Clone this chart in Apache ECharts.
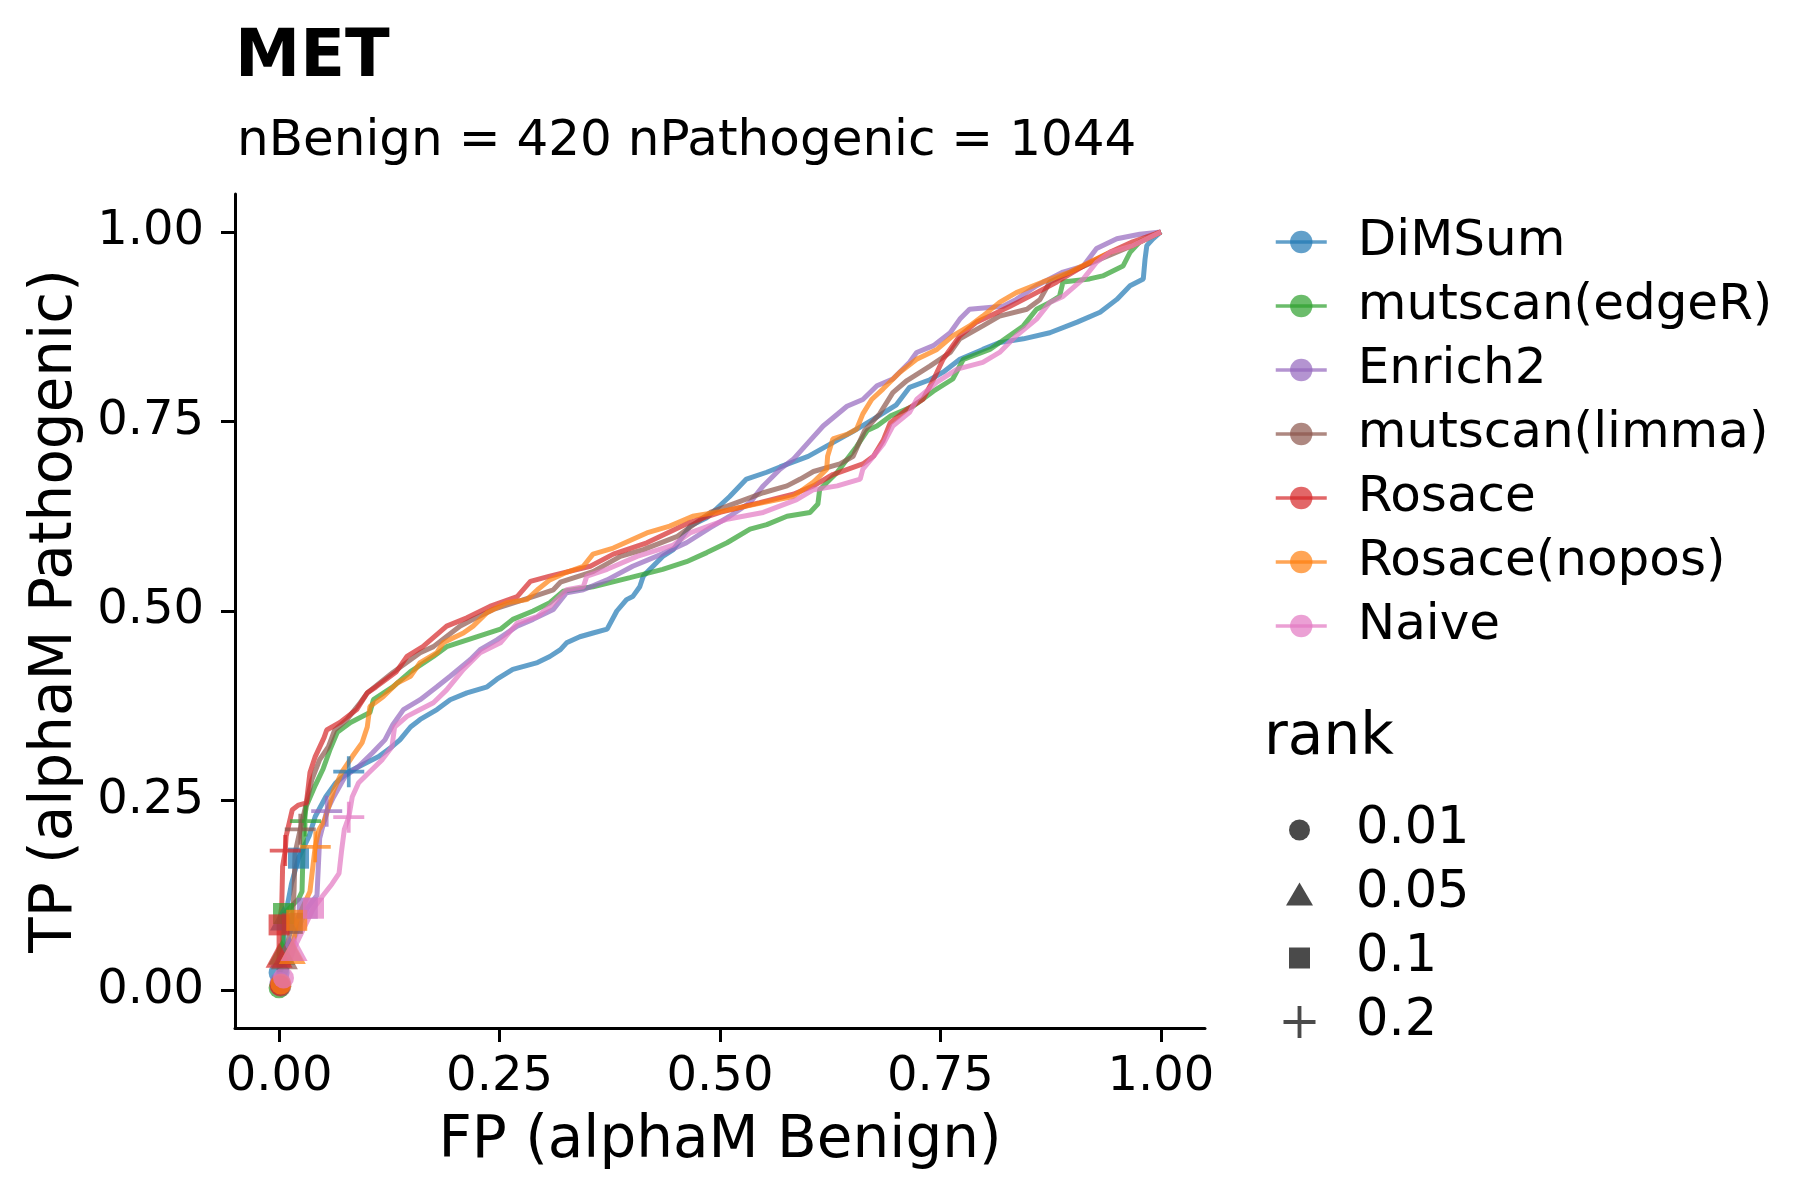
<!DOCTYPE html>
<html>
<head>
<meta charset="utf-8">
<script src="https://cdn.jsdelivr.net/npm/echarts@6/dist/echarts.min.js"></script>
<style>
html,body{margin:0;padding:0;background:#fff;}
#chart{width:1800px;height:1200px;}
</style>
</head>
<body>
<div id="chart"></div>
<script>
const titleText = 'MET';
const subtitleText = 'nBenign = 420 nPathogenic = 1044';
const xName = 'FP (alphaM Benign)';
const yName = 'TP (alphaM Pathogenic)';
const tickValues = [0, 0.25, 0.5, 0.75, 1];
const methods = ['DiMSum','mutscan(edgeR)','Enrich2','mutscan(limma)','Rosace','Rosace(nopos)','Naive'];
const colors = ['#1f77b4','#2ca02c','#9467bd','#8c564b','#d62728','#ff7f0e','#e377c2'];
const rankLabels = ['0.01','0.05','0.1','0.2'];

const curveDiMSum = [[0,0],[0,0.022],[0.005,0.06],[0.007,0.097],[0.014,0.14],[0.022,0.174],[0.034,0.203],[0.041,0.229],[0.053,0.255],[0.064,0.273],[0.079,0.288],[0.094,0.297],[0.113,0.308],[0.128,0.321],[0.137,0.33],[0.149,0.347],[0.16,0.357],[0.179,0.37],[0.194,0.383],[0.213,0.392],[0.236,0.4],[0.247,0.41],[0.265,0.423],[0.293,0.432],[0.307,0.44],[0.319,0.449],[0.326,0.458],[0.341,0.466],[0.356,0.471],[0.372,0.476],[0.383,0.5],[0.394,0.515],[0.401,0.519],[0.409,0.532],[0.413,0.546],[0.424,0.559],[0.435,0.572],[0.447,0.581],[0.455,0.594],[0.466,0.612],[0.485,0.623],[0.511,0.651],[0.53,0.674],[0.553,0.683],[0.568,0.69],[0.6,0.704],[0.628,0.722],[0.651,0.737],[0.674,0.753],[0.7,0.772],[0.715,0.795],[0.738,0.805],[0.753,0.815],[0.772,0.832],[0.798,0.845],[0.817,0.854],[0.844,0.859],[0.874,0.867],[0.905,0.881],[0.931,0.894],[0.95,0.911],[0.965,0.929],[0.98,0.938],[0.982,0.964],[0.984,0.982],[0.991,0.991],[1,1]];
const curveEdgeR = [[0,0],[0,0.006],[0.004,0.05],[0.005,0.1],[0.022,0.12],[0.026,0.13],[0.028,0.222],[0.031,0.243],[0.041,0.27],[0.05,0.292],[0.058,0.318],[0.066,0.34],[0.081,0.353],[0.103,0.366],[0.107,0.383],[0.129,0.4],[0.149,0.42],[0.175,0.44],[0.19,0.453],[0.224,0.466],[0.251,0.476],[0.265,0.489],[0.288,0.5],[0.307,0.511],[0.322,0.526],[0.356,0.532],[0.398,0.544],[0.435,0.555],[0.462,0.565],[0.485,0.577],[0.508,0.59],[0.534,0.608],[0.553,0.614],[0.576,0.625],[0.602,0.63],[0.611,0.641],[0.613,0.66],[0.633,0.683],[0.644,0.7],[0.655,0.717],[0.667,0.738],[0.678,0.744],[0.693,0.757],[0.719,0.77],[0.742,0.79],[0.764,0.806],[0.776,0.832],[0.806,0.845],[0.844,0.876],[0.859,0.898],[0.874,0.907],[0.885,0.915],[0.889,0.934],[0.919,0.938],[0.934,0.942],[0.957,0.955],[0.965,0.973],[0.976,0.987],[1,1]];
const curveEnrich2 = [[0,0],[0,0.01],[0.012,0.055],[0.032,0.108],[0.043,0.125],[0.046,0.2],[0.054,0.236],[0.062,0.255],[0.075,0.282],[0.09,0.295],[0.106,0.313],[0.12,0.33],[0.129,0.35],[0.141,0.37],[0.16,0.383],[0.179,0.4],[0.194,0.414],[0.217,0.436],[0.228,0.449],[0.247,0.462],[0.27,0.48],[0.288,0.489],[0.311,0.502],[0.326,0.524],[0.345,0.528],[0.372,0.541],[0.401,0.559],[0.432,0.574],[0.462,0.59],[0.489,0.61],[0.511,0.625],[0.534,0.643],[0.549,0.665],[0.568,0.687],[0.583,0.7],[0.6,0.722],[0.617,0.744],[0.644,0.77],[0.662,0.779],[0.678,0.797],[0.696,0.806],[0.715,0.828],[0.723,0.841],[0.742,0.85],[0.761,0.867],[0.772,0.885],[0.783,0.898],[0.821,0.902],[0.836,0.911],[0.859,0.929],[0.889,0.947],[0.912,0.955],[0.927,0.978],[0.95,0.991],[0.976,0.997],[1,1]];
const curveLimma = [[0,0],[0,0.004],[0.006,0.044],[0.015,0.088],[0.017,0.132],[0.018,0.18],[0.024,0.212],[0.03,0.242],[0.037,0.277],[0.046,0.304],[0.056,0.321],[0.063,0.343],[0.077,0.357],[0.092,0.379],[0.1,0.392],[0.129,0.419],[0.16,0.445],[0.175,0.453],[0.205,0.48],[0.22,0.489],[0.243,0.502],[0.288,0.519],[0.311,0.528],[0.319,0.538],[0.356,0.552],[0.387,0.572],[0.413,0.581],[0.451,0.598],[0.489,0.63],[0.519,0.643],[0.549,0.656],[0.576,0.665],[0.591,0.674],[0.606,0.684],[0.636,0.694],[0.651,0.704],[0.664,0.738],[0.681,0.76],[0.696,0.788],[0.712,0.804],[0.738,0.823],[0.761,0.841],[0.772,0.859],[0.798,0.876],[0.817,0.889],[0.848,0.898],[0.863,0.911],[0.874,0.934],[0.905,0.951],[0.931,0.964],[0.968,0.982],[1,1]];
const curveRosace = [[0,0],[0,0.006],[0,0.046],[0,0.086],[0.003,0.11],[0.004,0.163],[0.007,0.184],[0.008,0.203],[0.015,0.238],[0.022,0.244],[0.031,0.247],[0.035,0.287],[0.041,0.308],[0.051,0.333],[0.054,0.343],[0.069,0.353],[0.088,0.37],[0.1,0.392],[0.11,0.4],[0.133,0.42],[0.145,0.44],[0.163,0.453],[0.19,0.48],[0.213,0.491],[0.239,0.506],[0.27,0.519],[0.285,0.539],[0.307,0.546],[0.353,0.559],[0.379,0.575],[0.417,0.59],[0.466,0.617],[0.5,0.63],[0.545,0.643],[0.583,0.654],[0.606,0.665],[0.628,0.68],[0.662,0.694],[0.674,0.704],[0.685,0.725],[0.693,0.748],[0.712,0.766],[0.73,0.779],[0.742,0.805],[0.753,0.832],[0.772,0.863],[0.791,0.881],[0.806,0.889],[0.829,0.902],[0.851,0.915],[0.882,0.934],[0.912,0.955],[0.942,0.973],[0.968,0.987],[1,1]];
const curveNopos = [[0,0],[0.002,0.008],[0.015,0.051],[0.02,0.092],[0.027,0.11],[0.035,0.13],[0.039,0.17],[0.041,0.189],[0.045,0.211],[0.052,0.225],[0.062,0.264],[0.071,0.287],[0.083,0.308],[0.094,0.326],[0.1,0.347],[0.103,0.374],[0.118,0.387],[0.134,0.405],[0.149,0.414],[0.16,0.432],[0.179,0.445],[0.186,0.458],[0.209,0.471],[0.22,0.48],[0.236,0.498],[0.258,0.511],[0.281,0.515],[0.293,0.528],[0.307,0.541],[0.326,0.551],[0.345,0.559],[0.356,0.575],[0.379,0.583],[0.417,0.603],[0.443,0.612],[0.469,0.625],[0.5,0.631],[0.549,0.643],[0.583,0.651],[0.606,0.67],[0.621,0.687],[0.622,0.704],[0.628,0.727],[0.644,0.733],[0.655,0.74],[0.662,0.76],[0.672,0.779],[0.685,0.793],[0.704,0.815],[0.723,0.832],[0.746,0.845],[0.764,0.863],[0.783,0.876],[0.798,0.889],[0.817,0.907],[0.836,0.92],[0.866,0.934],[0.897,0.947],[0.919,0.96],[0.942,0.973],[0.968,0.982],[1,1]];
const curveNaive = [[0,0],[0.005,0.016],[0.017,0.055],[0.039,0.108],[0.05,0.125],[0.06,0.14],[0.068,0.154],[0.071,0.185],[0.074,0.212],[0.079,0.228],[0.083,0.255],[0.09,0.273],[0.102,0.287],[0.117,0.304],[0.128,0.321],[0.131,0.347],[0.145,0.361],[0.16,0.37],[0.175,0.379],[0.19,0.396],[0.209,0.423],[0.228,0.445],[0.251,0.458],[0.27,0.484],[0.293,0.493],[0.307,0.506],[0.326,0.528],[0.345,0.532],[0.349,0.546],[0.372,0.555],[0.406,0.572],[0.447,0.587],[0.466,0.603],[0.508,0.621],[0.549,0.63],[0.587,0.647],[0.606,0.66],[0.633,0.665],[0.659,0.674],[0.662,0.687],[0.674,0.704],[0.685,0.72],[0.696,0.744],[0.715,0.762],[0.723,0.779],[0.746,0.802],[0.769,0.819],[0.798,0.828],[0.817,0.841],[0.836,0.863],[0.859,0.885],[0.874,0.907],[0.889,0.915],[0.912,0.938],[0.927,0.96],[0.942,0.973],[0.968,0.982],[1,1]];

// rank threshold markers, one point per method (same order as methods)
const markers001 = [[0,0.023],[0,0.003],[0.001,0.01],[0.002,0.005],[0.001,0.006],[0.002,0.008],[0.005,0.016]];
const markers005 = [[0.005,0.095],[0.003,0.05],[0.012,0.055],[0.006,0.044],[0,0.046],[0.015,0.051],[0.017,0.055]];
const markers010 = [[0.022,0.174],[0.005,0.101],[0.032,0.108],[0.015,0.088],[0,0.086],[0.02,0.092],[0.039,0.108]];
const markers020 = [[0.079,0.288],[0.03,0.223],[0.054,0.236],[0.024,0.212],[0.007,0.184],[0.041,0.189],[0.079,0.228]];

const curves = [curveDiMSum, curveEdgeR, curveEnrich2, curveLimma, curveRosace, curveNopos, curveNaive];
const rankMarkers = [markers001, markers005, markers010, markers020];

const FONT = 'DejaVu Sans';
const plusPath = 'path://M0,44L100,44L100,56L0,56Z M44,0L56,0L56,100L44,100Z';
const rankSymbols = ['circle','triangle','rect',plusPath];
const rankSizes = [[21,21],[27,25],[21,21],[31,31]];
const rankLegendSizes = [[21,21],[27,23],[21,21],[32,32]];

const series = [];
methods.forEach((m, i) => {
  series.push({
    name: m, type: 'line', data: curves[i],
    symbol: 'circle', symbolSize: 22, showSymbol: false,
    lineStyle: { color: colors[i], width: 5, opacity: 0.7 },
    itemStyle: { color: colors[i], opacity: 0.7 },
    emphasis: { disabled: true }, z: 2, silent: true
  });
});
rankLabels.forEach((r, k) => {
  series.push({
    name: r, type: 'scatter',
    symbol: rankSymbols[k], symbolSize: rankSizes[k], symbolKeepAspect: false,
    itemStyle: { color: '#4a4a4a', opacity: 1 },
    data: rankMarkers[k].map((p, i) => ({ value: p, itemStyle: { color: colors[i], opacity: 0.7 } })),
    emphasis: { disabled: true }, z: 3, silent: true
  });
});

const legends = [{
  data: methods, orient: 'vertical', left: 1269, top: 209,
  itemWidth: 51, itemHeight: 28, itemGap: 8,
  lineStyle: { width: 3.5 },
  textStyle: { fontFamily: FONT, fontSize: 50, lineHeight: 56, color: '#000', padding: [0,0,0,26] },
  selectedMode: false
}];
rankLabels.forEach((r, k) => {
  legends.push({
    data: [r], orient: 'vertical',
    left: 1269 + (51 - rankLegendSizes[k][0]) / 2, top: 797 + k * 64,
    itemWidth: rankLegendSizes[k][0], itemHeight: rankLegendSizes[k][1],
    textStyle: { fontFamily: FONT, fontSize: 51, lineHeight: 56, color: '#000',
      padding: [0,0,0,26 + (51 - rankLegendSizes[k][0]) / 2] },
    selectedMode: false
  });
});

const axisCommon = {
  type: 'value', min: -0.05, max: 1.05,
  splitLine: { show: false },
  axisLine: { show: true, onZero: false, lineStyle: { color: '#000', width: 3 } },
  axisTick: { show: true, length: 14, lineStyle: { color: '#000', width: 3 }, customValues: tickValues },
  nameLocation: 'middle',
  nameTextStyle: { fontFamily: FONT, fontSize: 58, color: '#000' }
};

const option = {
  animation: false,
  backgroundColor: '#fff',
  title: [
    { text: titleText, left: 230, top: 21, textStyle: { fontFamily: FONT, fontWeight: 'bold', fontSize: 65.5, color: '#000' } },
    { text: subtitleText, left: 232, top: 112, textStyle: { fontFamily: FONT, fontWeight: 'normal', fontSize: 50, color: '#000' } },
    { text: 'rank', left: 1259, top: 705, textStyle: { fontFamily: FONT, fontWeight: 'normal', fontSize: 58, color: '#000' } }
  ],
  legend: legends,
  grid: { left: 235, right: 595, top: 194, bottom: 172, containLabel: false },
  xAxis: Object.assign({}, axisCommon, {
    name: xName, nameGap: 85,
    axisLabel: { customValues: tickValues, margin: 26, fontFamily: FONT, fontSize: 48, color: '#000',
      formatter: v => v.toFixed(2) }
  }),
  yAxis: Object.assign({}, axisCommon, {
    name: yName, nameGap: 150,
    axisLabel: { customValues: tickValues, margin: 31, fontFamily: FONT, fontSize: 48, color: '#000',
      formatter: v => v.toFixed(2) }
  }),
  series: series
};

const chart = echarts.init(document.getElementById('chart'), null, { renderer: 'canvas' });
chart.setOption(option);
</script>
</body>
</html>
